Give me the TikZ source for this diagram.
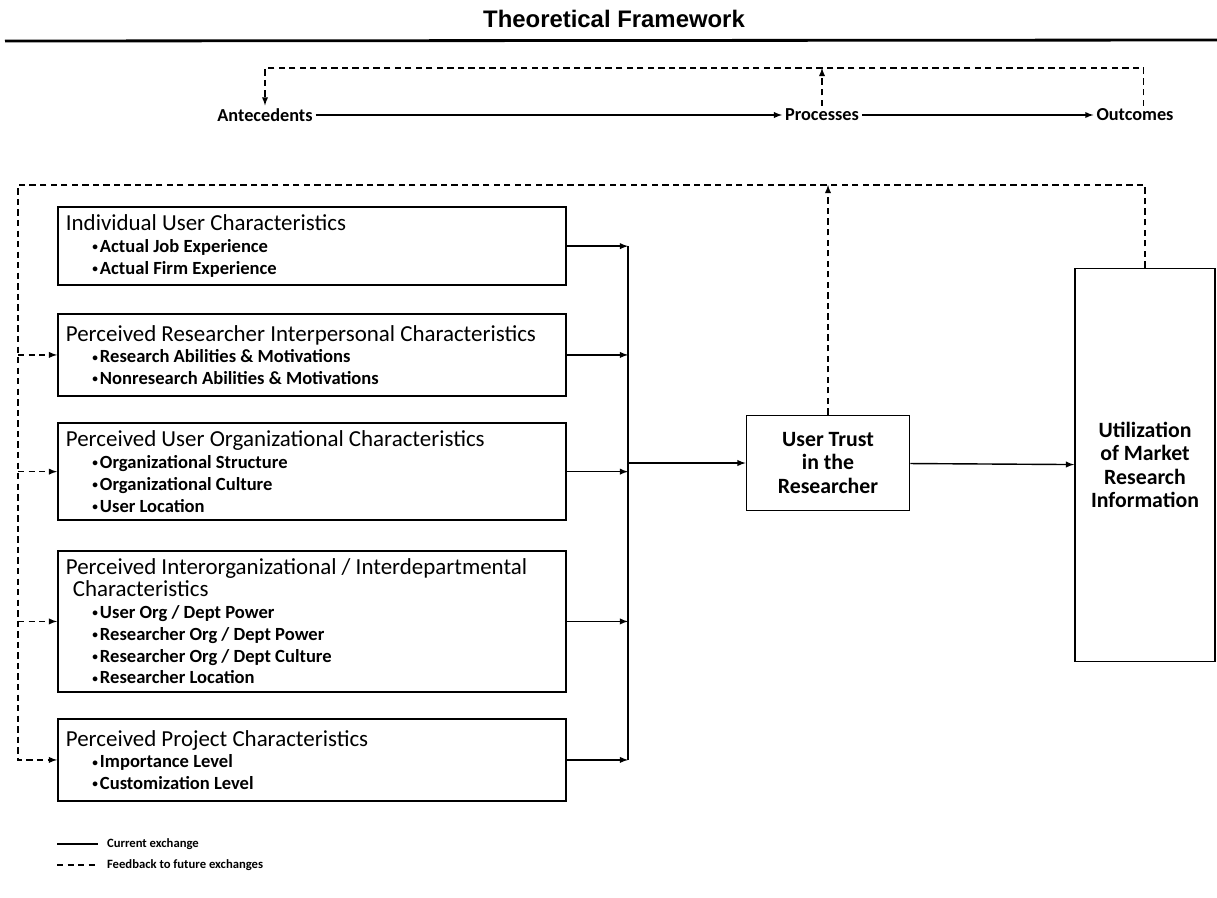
\documentclass[tikz,border=0pt]{standalone}
\usepackage{fontspec}
\setmainfont{Carlito}
\newfontfamily\headfont{Liberation Sans}
\usetikzlibrary{positioning}

% bullet line inside a factor box
\newcommand{\itm}[1]{\hspace*{1.15em}{\fontsize{13.2}{15.5}\selectfont\bfseries
  \raisebox{0.2ex}{\fontsize{8}{8}\selectfont\textbullet}\hspace{1.5pt}#1}}

\tikzset{
  factor/.style={draw, line width=1.3pt, rectangle, anchor=north west,
    minimum width=12.7cm, text width=12.3cm, align=flush left, inner sep=0.2cm,
    font=\fontsize{16.3}{15.5}\selectfont},
  result/.style={draw, line width=1.3pt, rectangle, align=center,
    font=\fontsize{15.5}{16.5}\selectfont\bfseries},
  stage/.style={font=\fontsize{13}{15}\selectfont\bfseries, inner sep=2pt},
  legend/.style={font=\fontsize{9}{11}\selectfont\bfseries, anchor=west, inner sep=2pt},
  flow/.style={line width=1pt},
  feedback/.style={line width=1pt, dash pattern=on 4.5pt off 3pt}
}

\begin{document}
\begin{tikzpicture}[x=0.025cm, y=-0.025cm, >=latex]
  \useasboundingbox (0,0) rectangle (1217,897);

  % heading
  \node (title) at (614,19) {\headfont\bfseries\fontsize{17}{20}\selectfont Theoretical Framework};
  \draw[line width=2pt] (5,41) -- (1217,40);

  % general scheme
  \node[stage] (ante) at (265,115) {Antecedents};
  \node[stage] (proc) at (822,115) {Processes};
  \node[stage] (outc) at (1135,115) {Outcomes};
  \draw[flow,->] (ante) -- (proc);
  \draw[flow,->] (proc) -- (outc);
  \coordinate (fbtop) at (0,68);
  \draw[feedback,->] ([xshift=6pt]outc.north) |- (fbtop -| ante.north) -- (ante.north);
  \draw[feedback,->] (proc.north) -- (proc.north |- fbtop);

  % antecedent boxes
  \node[factor, minimum height=1.925cm] (b1) at (57,206) {Individual User Characteristics\\
    \itm{Actual Job Experience}\\ \itm{Actual Firm Experience}};
  \node[factor, minimum height=2.05cm] (b2) at (57,313) {Perceived Researcher Interpersonal Characteristics\\
    \itm{Research Abilities \& Motivations}\\ \itm{Nonresearch Abilities \& Motivations}};
  \node[factor, minimum height=2.4cm] (b3) at (57,422) {Perceived User Organizational Characteristics\\
    \itm{Organizational Structure}\\ \itm{Organizational Culture}\\ \itm{User Location}};
  \node[factor, minimum height=3.45cm] (b4) at (57,550) {Perceived Interorganizational / Interdepartmental\\
    \hspace*{0.3em}Characteristics\\
    \itm{User Org / Dept Power}\\ \itm{Researcher Org / Dept Power}\\
    \itm{Researcher Org / Dept Culture}\\ \itm{Researcher Location}};
  \node[factor, minimum height=2.05cm] (b5) at (57,718) {Perceived Project Characteristics\\
    \itm{Importance Level}\\ \itm{Customization Level}};

  % process and outcome
  \node[result, minimum width=4.075cm, minimum height=2.375cm] (trust) at (828,463) {User Trust\\in the\\Researcher};
  \node[result, minimum width=3.5cm, minimum height=9.825cm] (util) at (1145,465) {Utilization\\of Market\\Research\\Information};

  % current exchange
  \coordinate (bus) at (628,0);
  \foreach \b in {b1,b2,b3,b4,b5}
    \draw[flow,->] (\b.east) -- (\b.east -| bus);
  \draw[flow] (b1.east -| bus) -- (b5.east -| bus);
  \draw[flow,->] (trust.west -| bus) -- (trust.west);
  \draw[flow,->] (trust) -- (util);

  % feedback to future exchanges
  \coordinate (fbmain) at (18,185);
  \draw[feedback,->] (util.north) |- (fbmain) |- (b5.west);
  \foreach \b in {b2,b3,b4}
    \draw[feedback,->] (fbmain |- \b.west) -- (\b.west);
  \draw[feedback,->] (trust.north) -- (trust.north |- fbmain);

  % legend
  \coordinate (lgc) at (57,844);
  \coordinate (lgf) at (57,865);
  \node[legend] (lgcur) at (104,844) {Current exchange};
  \node[legend] (lgfut) at (104,865) {Feedback to future exchanges};
  \draw[flow] (lgc) -- ([xshift=-4pt]lgcur.west);
  \draw[feedback] (lgf) -- ([xshift=-4pt]lgfut.west);
\end{tikzpicture}
\end{document}
